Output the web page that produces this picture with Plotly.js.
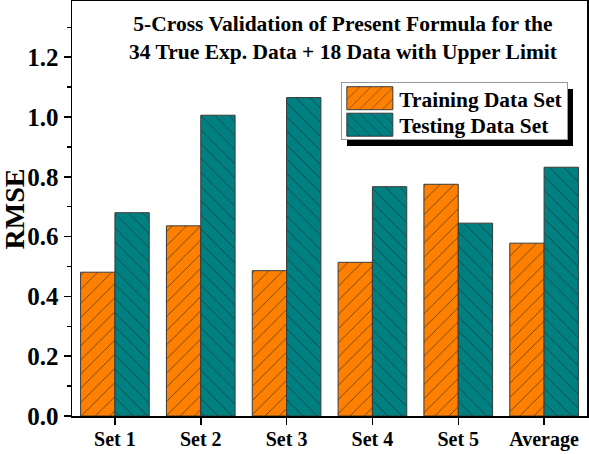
<!DOCTYPE html>
<html><head><meta charset="utf-8">
<script src="https://cdn.plot.ly/plotly-3.0.1.min.js"></script>
<style>html,body{margin:0;padding:0;background:#fff;}#chart{width:589px;height:454px;}</style>
</head><body><div id="chart"></div>
<script>
const categories = ["Set 1", "Set 2", "Set 3", "Set 4", "Set 5", "Average"];
const trainingRMSE = [0.481, 0.636, 0.486, 0.514, 0.775, 0.578];
const testingRMSE = [0.680, 1.006, 1.065, 0.767, 0.645, 0.832];
const seriesNames = ["Training Data Set", "Testing Data Set"];
const titleLines = ["5-Cross Validation of Present Formula for the", "34 True Exp. Data + 18 Data with Upper Limit"];
const yTitle = "RMSE";

const FONT = "Liberation Serif, Times New Roman, serif";
const idx = categories.map((c, i) => i);
const bounds = categories.map((c, i) => i - 0.5).concat([categories.length - 0.5]);

const traces = [
  {type: "bar", name: seriesNames[0], x: categories, y: trainingRMSE,
   marker: {color: "#FF8000", line: {color: "#3a3a3a", width: 1},
            pattern: {shape: "/", fgcolor: "#4a3a20", bgcolor: "#FF8000", size: 10, solidity: 0.08}}},
  {type: "bar", name: seriesNames[1], x: categories, y: testingRMSE,
   marker: {color: "#008080", line: {color: "#3a3a3a", width: 1},
            pattern: {shape: "\\", fgcolor: "#1a3a3a", bgcolor: "#008080", size: 10, solidity: 0.08}}}
];

const layout = {
  width: 589, height: 454,
  margin: {l: 72, r: 2, t: 1, b: 38},
  paper_bgcolor: "#fff", plot_bgcolor: "#fff",
  barmode: "group", bargap: 0.2, bargroupgap: 0,
  showlegend: true,
  legend: {x: 0.522, y: 0.8055, xanchor: "left", yanchor: "top",
           bgcolor: "#fff", bordercolor: "#9a9a9a", borderwidth: 1.5,
           font: {family: FONT, size: 21.4, color: "#000", weight: "bold"},
           itemwidth: 47, tracegroupgap: 0},
  xaxis: {type: "category", range: [-0.5, categories.length - 0.5],
          showline: true, linecolor: "#000", linewidth: 1.5, mirror: true,
          ticks: "outside", ticklen: 7, tickwidth: 1.5, tickcolor: "#000", ticklabelstandoff: -3,
          tickfont: {family: FONT, size: 20, color: "#000", weight: "bold"},
          showgrid: false, zeroline: false, fixedrange: true},
  xaxis2: {overlaying: "x", anchor: "y", side: "bottom", type: "linear",
           range: [-0.5, categories.length - 0.5], tickmode: "array", tickvals: bounds,
           ticks: "outside", ticklen: 4, tickwidth: 1.5, tickcolor: "#000",
           showticklabels: false, showgrid: false, zeroline: false, showline: false},
  xaxis3: {overlaying: "x", anchor: "y", side: "top", type: "linear",
           range: [-0.5, categories.length - 0.5], tickmode: "array", tickvals: idx,
           ticks: "inside", ticklen: 7, tickwidth: 1.5, tickcolor: "#000",
           minor: {tickmode: "array", tickvals: bounds, ticks: "inside", ticklen: 4, tickwidth: 1.5, tickcolor: "#000"},
           showticklabels: false, showgrid: false, zeroline: false, showline: false},
  yaxis: {range: [0, 1.388], dtick: 0.2, tick0: 0, tickformat: ".1f",
          showline: true, linecolor: "#000", linewidth: 1.5, mirror: true,
          ticks: "outside", ticklen: 7, tickwidth: 1.5, tickcolor: "#000",
          minor: {dtick: 0.1, ticks: "outside", ticklen: 4, tickwidth: 1.5, tickcolor: "#000"},
          tickfont: {family: FONT, size: 25, color: "#000", weight: "bold"},
          showgrid: false, zeroline: false},
  yaxis2: {overlaying: "y", anchor: "x", side: "right", range: [0, 1.388], dtick: 0.2, tick0: 0,
           ticks: "inside", ticklen: 7, tickwidth: 1.5, tickcolor: "#000",
           minor: {dtick: 0.1, ticks: "inside", ticklen: 4, tickwidth: 1.5, tickcolor: "#000"},
           showticklabels: false, showgrid: false, zeroline: false, showline: false},
  annotations: [
    {xref: "paper", yref: "paper", x: 0.528, y: 0.978, xanchor: "center", yanchor: "top",
     text: titleLines.map(t => "<b>" + t + "</b>").join("<br>"), showarrow: false, align: "center",
     font: {family: FONT, size: 21.5, color: "#000"}},
    {xref: "paper", yref: "paper", x: -0.1115, y: 0.499, xanchor: "center", yanchor: "middle",
     text: "<b>" + yTitle + "</b>", textangle: -90, showarrow: false, borderpad: 0,
     font: {family: FONT, size: 28, color: "#000"}}
  ]
};

Plotly.newPlot("chart", traces, layout, {displayModeBar: false, staticPlot: true}).then(gd => {
  // enlarge legend swatches, tighten rows, add drop shadow
  gd.querySelectorAll(".legendpoints path").forEach(p => {
    p.setAttribute("d", "M22,11.5H-24V-11.5H22Z");
  });
  const items = gd.querySelectorAll(".legend g.traces");
  items.forEach((g, i) => {
    const m = /translate\(([-\d.e]+)[ ,]+([-\d.e]+)\)/.exec(g.getAttribute("transform") || "");
    if (m) g.setAttribute("transform", "translate(" + m[1] + "," + (16.5 + i * 26.5) + ")");
  });
  const bg = gd.querySelector(".legend rect.bg");
  if (bg) {
    bg.setAttribute("width", 226);
    bg.setAttribute("height", 57);
    const sh = bg.cloneNode();
    sh.setAttribute("class", "shadow");
    sh.style.fill = "#000"; sh.style.stroke = "none";
    sh.setAttribute("x", (parseFloat(bg.getAttribute("x") || 0) + 5));
    sh.setAttribute("y", (parseFloat(bg.getAttribute("y") || 0) + 7));
    bg.parentNode.insertBefore(sh, bg);
  }
});
</script></body></html>
